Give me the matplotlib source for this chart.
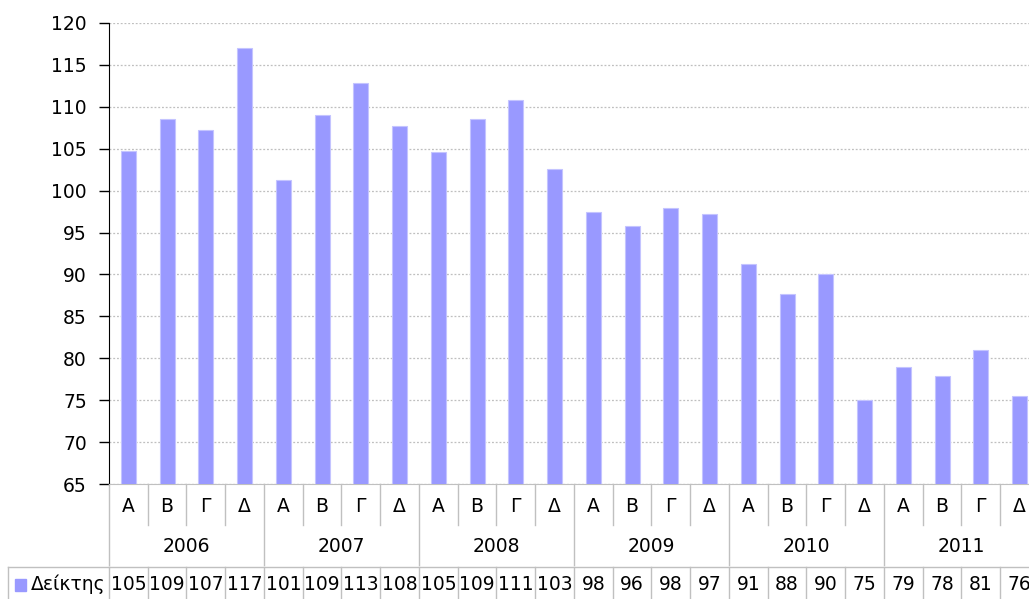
import matplotlib
matplotlib.use("Agg")
import matplotlib.pyplot as plt
from matplotlib.lines import Line2D

# quarterly index values, 2006-2011
quarters = ["Α", "Β", "Γ", "Δ"]
years = ["2006", "2007", "2008", "2009", "2010", "2011"]
values = [104.7, 108.6, 107.2, 117.0,
          101.3, 109.0, 112.8, 107.7,
          104.6, 108.6, 110.8, 102.6,
          97.5, 95.8, 97.9, 97.2,
          91.2, 87.7, 90.0, 75.0,
          79.0, 77.9, 81.0, 75.5]
series_name = "Δείκτης"

BAR = "#9999FF"
LINE = "#C0C0C0"
FS = 13.5

W, H = 1029, 599
fig = plt.figure(figsize=(W / 100, H / 100), dpi=100)
# plot area runs a little past the right edge of the canvas
ax = fig.add_axes([109 / W, (H - 484) / H, (1039 - 109) / W, 461 / H])

n = len(values)
x = list(range(n))
ax.bar(x, values, width=0.39, color=BAR, edgecolor="#C4C4FF", linewidth=0.8, zorder=3)

ax.set_xlim(-0.5, n - 0.5)
ax.set_ylim(65, 120)
ax.set_yticks(range(65, 121, 5))
ax.tick_params(axis="y", labelsize=FS, length=7, width=1, color="#000000", pad=9)
ax.set_xticks([])
ax.grid(axis="y", color="#BFBFBF", linestyle=(0, (1.5, 1.5)), linewidth=0.9, zorder=0)
for s in ["top", "right"]:
    ax.spines[s].set_visible(False)
ax.spines["left"].set_color("#000000")
ax.spines["bottom"].set_color(LINE)

# rows below the axis, in axes-fraction units
px = 1 / 461
tr = ax.get_xaxis_transform()
y_q = -41 * px      # end of quarter row
y_y = -81 * px      # end of year row
y_d = -83 * px      # top of data row
y_end = -130 * px

def vline(xp, y0, y1):
    ax.add_line(Line2D([xp, xp], [y0, y1], transform=tr, color=LINE,
                       linewidth=1, clip_on=False))

for i in range(n + 1):
    b = i - 0.5
    if i % 4 == 0:
        vline(b, 0, y_y)
    else:
        vline(b, 0, y_q)
    vline(b, y_d, y_end)

ax.add_line(Line2D([-0.5, n - 0.5], [y_d, y_d], transform=tr, color=LINE,
                   linewidth=1, clip_on=False))

for i, v in enumerate(values):
    ax.text(i, -23 * px, quarters[i % 4], transform=tr, ha="center", va="center",
            fontsize=FS)
    ax.text(i, -101 * px, f"{v:.0f}", transform=tr, ha="center", va="center",
            fontsize=FS)
for j, yr in enumerate(years):
    ax.text(j * 4 + 1.5, -63 * px, yr, transform=tr, ha="center", va="center",
            fontsize=FS)

# legend cell of the data table
fig.add_artist(Line2D([8 / W, 109 / W], [(H - 567) / H] * 2, color=LINE, linewidth=1))
fig.add_artist(Line2D([8 / W, 8 / W], [(H - 567) / H, 0], color=LINE, linewidth=1))
fig.patches.append(plt.Rectangle((15 / W, (H - 591) / H), 11 / W, 12 / H,
                                 transform=fig.transFigure, color=BAR, figure=fig))
fig.text(31 / W, (H - 584) / H, series_name, ha="left", va="center", fontsize=FS)

fig.savefig("out.png", dpi=100)
